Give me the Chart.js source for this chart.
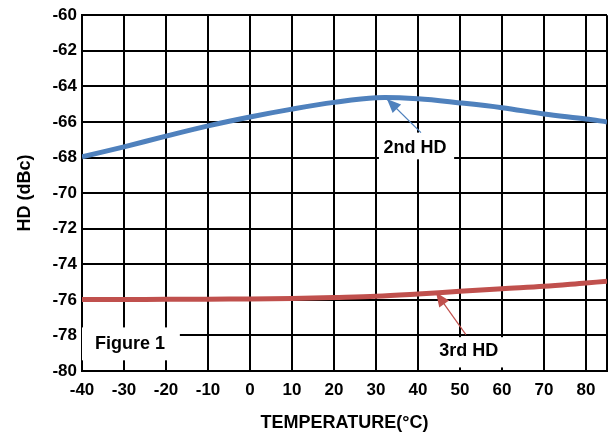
<!DOCTYPE html>
<html><head><meta charset="utf-8">
<script src="https://cdn.jsdelivr.net/npm/chart.js@4/dist/chart.umd.min.js"></script>
<style>html,body{margin:0;padding:0;background:#fff}#c{display:block}</style>
</head><body>
<canvas id="c" width="616" height="434"></canvas>
<script>
const temps = [-40,-30,-20,-10,0,10,20,30,40,50,60,70,80,85];
const hd2 = [-67.96,-67.4,-66.8,-66.22,-65.72,-65.28,-64.9,-64.64,-64.7,-64.93,-65.2,-65.55,-65.83,-66.0];
const hd3 = [-75.98,-75.98,-75.97,-75.96,-75.95,-75.93,-75.87,-75.8,-75.67,-75.52,-75.37,-75.24,-75.05,-74.96];
const xTicks = [-40,-30,-20,-10,0,10,20,30,40,50,60,70,80,85];
const yTicks = [-80,-78,-76,-74,-72,-70,-68,-66,-64,-62,-60];
const labels = [
  {text:'2nd HD', x:39.3, y:-67.46, box:[30.7,-66.6,48.6,-68.1], tip:[32.6,-64.71], tail:[40.7,-66.6], color:'#4F81BD'},
  {text:'3rd HD', x:52.1, y:-78.9, box:[42.6,-78.1,60.5,-79.8], tip:[44.3,-75.59], tail:[51.4,-77.95], color:'#C0504D'},
  {text:'Figure 1', x:-36.9, y:-78.5, box:[-40,-77.55,-16.7,-79.4], align:'left'}
];
const font = 'bold 18px "Liberation Sans", Arial, sans-serif';

const annot = {
  id:'annot',
  beforeDatasetsDraw(chart){
    const {ctx, scales:{x,y}} = chart;
    ctx.save();
    ctx.fillStyle='#fff';
    labels.forEach(l=>{
      const x0=x.getPixelForValue(l.box[0]), x1=x.getPixelForValue(l.box[2]);
      const y0=y.getPixelForValue(l.box[1]), y1=y.getPixelForValue(l.box[3]);
      ctx.fillRect(x0,y0,x1-x0,y1-y0);
    });
    ctx.fillStyle='#000';
    ctx.font=font;
    ctx.textBaseline='middle';
    labels.forEach(l=>{
      ctx.textAlign=l.align||'center';
      ctx.fillText(l.text, x.getPixelForValue(l.x), y.getPixelForValue(l.y));
    });
    ctx.restore();
  },
  afterDatasetsDraw(chart){
    const {ctx, scales:{x,y}} = chart;
    ctx.save();
    labels.forEach(l=>{
      if(!l.tip) return;
      const tx=x.getPixelForValue(l.tip[0]), ty=y.getPixelForValue(l.tip[1]);
      const sx=x.getPixelForValue(l.tail[0]), sy=y.getPixelForValue(l.tail[1]);
      const ang=Math.atan2(ty-sy, tx-sx);
      ctx.strokeStyle=l.color; ctx.fillStyle=l.color; ctx.lineWidth=1.2;
      ctx.beginPath(); ctx.moveTo(sx,sy); ctx.lineTo(tx,ty); ctx.stroke();
      const L=14, W=6;
      ctx.beginPath();
      ctx.moveTo(tx,ty);
      ctx.lineTo(tx-L*Math.cos(ang)+W*Math.sin(ang), ty-L*Math.sin(ang)-W*Math.cos(ang));
      ctx.lineTo(tx-L*Math.cos(ang)-W*Math.sin(ang), ty-L*Math.sin(ang)+W*Math.cos(ang));
      ctx.closePath(); ctx.fill();
    });
    ctx.restore();
  }
};

new Chart(document.getElementById('c'), {
  type:'line',
  data:{datasets:[
    {data:temps.map((t,i)=>({x:t,y:hd2[i]})), borderColor:'#4F81BD', borderWidth:5, pointRadius:0, tension:0.35, fill:false},
    {data:temps.map((t,i)=>({x:t,y:hd3[i]})), borderColor:'#C0504D', borderWidth:5, pointRadius:0, tension:0.35, fill:false}
  ]},
  options:{
    responsive:false, animation:false, devicePixelRatio:1,
    layout:{padding:{left:0,top:15,right:7,bottom:0}},
    plugins:{legend:{display:false}, tooltip:{enabled:false}},
    scales:{
      x:{type:'linear', min:-40, max:85,
        afterBuildTicks(s){ s.ticks = xTicks.map(v=>({value:v})); },
        afterFit(s){ s.height=63; },
        grid:{color:'#000', lineWidth:2, drawTicks:false},
        border:{color:'#000', width:2},
        ticks:{color:'#000', padding:9, maxRotation:0, autoSkip:false,
          font:{family:'"Liberation Sans", Arial, sans-serif', size:17, weight:'bold'},
          callback:(v)=> (v%10===0 ? String(v) : '')},
        title:{display:true, text:'TEMPERATURE(°C)', color:'#000', padding:{top:8,bottom:0},
          font:{family:'"Liberation Sans", Arial, sans-serif', size:18, weight:'bold'}}
      },
      y:{type:'linear', min:-80, max:-60,
        afterBuildTicks(s){ s.ticks = yTicks.map(v=>({value:v})); },
        afterFit(s){ s.width=82; },
        grid:{color:'#000', lineWidth:2, drawTicks:false},
        border:{color:'#000', width:2},
        ticks:{color:'#000', padding:5, autoSkip:false,
          font:{family:'"Liberation Sans", Arial, sans-serif', size:17, weight:'bold'}},
        title:{display:true, text:'HD (dBc)', color:'#000', padding:{top:14,bottom:4},
          font:{family:'"Liberation Sans", Arial, sans-serif', size:18, weight:'bold'}}
      }
    }
  },
  plugins:[annot]
});
</script>
</body></html>
